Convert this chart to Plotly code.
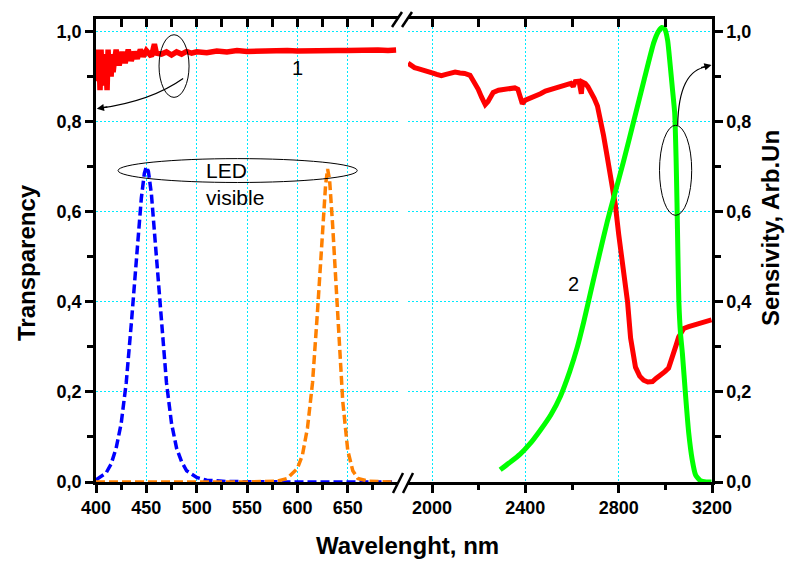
import plotly.graph_objects as go

# ---------------- data ----------------
trans_vis_nm = [400, 401, 402, 403, 404, 405, 406, 407, 408, 409, 410, 411, 412, 413, 414, 415,
                416, 417, 418, 420, 422, 423, 426, 429, 432, 435, 438, 441, 444, 447, 450, 455,
                458, 460, 465, 470, 475, 480, 485, 490, 495, 500, 510, 520, 530, 540, 550, 560,
                570, 580, 590, 600, 610, 620, 630, 640, 650, 660, 670, 680, 690, 698]
trans_vis = [0.93, 0.96, 0.89, 0.95, 0.87, 0.96, 0.90, 0.94, 0.88, 0.95, 0.92, 0.87, 0.96, 0.91,
             0.95, 0.90, 0.95, 0.91, 0.93, 0.96, 0.935, 0.925, 0.955, 0.93, 0.96, 0.935, 0.955,
             0.94, 0.96, 0.945, 0.958, 0.945, 0.972, 0.952, 0.95, 0.955, 0.948, 0.955, 0.95,
             0.956, 0.952, 0.955, 0.953, 0.957, 0.955, 0.958, 0.956, 0.957, 0.958, 0.956, 0.958,
             0.957, 0.958, 0.957, 0.959, 0.958, 0.958, 0.959, 0.958, 0.959, 0.958, 0.959]

trans_ir_nm = [1897, 1910, 1925, 1940, 1955, 1970, 1985, 2004, 2020, 2040, 2060, 2080, 2099, 2120,
               2140, 2163, 2180, 2198, 2212, 2228, 2240, 2262, 2285, 2310, 2335, 2355, 2368, 2378,
               2387, 2400, 2421, 2445, 2465, 2486, 2510, 2530, 2550, 2575, 2595, 2605, 2614, 2630,
               2640, 2645, 2657, 2668, 2679, 2695, 2709, 2722, 2735, 2750, 2765, 2778, 2786, 2800,
               2816, 2828, 2838, 2851, 2862, 2872, 2890, 2907, 2925, 2945, 2960, 2980, 2998, 3014,
               3025, 3036, 3047, 3057, 3068, 3079, 3100, 3121, 3140, 3160, 3180, 3198]
trans_ir = [0.93, 0.925, 0.92, 0.918, 0.915, 0.912, 0.91, 0.908, 0.905, 0.902, 0.905, 0.908, 0.91,
            0.908, 0.907, 0.903, 0.89, 0.872, 0.855, 0.838, 0.845, 0.865, 0.87, 0.872, 0.873, 0.875,
            0.872, 0.855, 0.84, 0.848, 0.852, 0.857, 0.862, 0.868, 0.872, 0.875, 0.878, 0.882,
            0.885, 0.878, 0.889, 0.89, 0.862, 0.888, 0.885, 0.878, 0.868, 0.852, 0.835, 0.805,
            0.77, 0.725, 0.68, 0.635, 0.614, 0.55, 0.49, 0.44, 0.40, 0.32, 0.28, 0.255, 0.235,
            0.226, 0.222, 0.223, 0.23, 0.237, 0.245, 0.253, 0.268, 0.286, 0.305, 0.322, 0.333,
            0.341, 0.345, 0.348, 0.352, 0.355, 0.357, 0.36]

sens_nm = [2292, 2330, 2378, 2420, 2464, 2510, 2550, 2590, 2623, 2650, 2679, 2715, 2752, 2778,
           2820, 2864, 2910, 2950, 2970, 2985, 2998, 3010, 3020, 3031, 3040, 3046, 3050, 3054,
           3058, 3065, 3073, 3087, 3100, 3115, 3130, 3150, 3175, 3198]
sens = [0.027, 0.042, 0.062, 0.085, 0.115, 0.15, 0.19, 0.245, 0.30, 0.355, 0.42, 0.50, 0.58, 0.63,
        0.71, 0.80, 0.895, 0.975, 1.0, 1.009, 1.005, 0.98, 0.93, 0.87, 0.82, 0.72, 0.62, 0.50,
        0.40, 0.33, 0.286, 0.19, 0.11, 0.05, 0.015, 0.003, 0.0, 0.0]

led_blue_nm = [400, 410, 415, 420, 425, 430, 435, 440, 445, 448, 450, 452, 455, 460, 465, 470,
               475, 480, 485, 490, 500, 510, 530, 560, 600, 650, 694]
led_blue = [0.005, 0.02, 0.04, 0.075, 0.13, 0.22, 0.35, 0.50, 0.63, 0.685, 0.70, 0.69, 0.64,
            0.50, 0.35, 0.22, 0.13, 0.075, 0.045, 0.025, 0.01, 0.004, 0.001, 0, 0, 0, 0]

led_orange_nm = [400, 550, 580, 590, 600, 605, 610, 615, 620, 625, 628, 630, 632, 635, 640, 645,
                 650, 655, 660, 670, 694]
led_orange = [0, 0, 0.002, 0.008, 0.03, 0.06, 0.12, 0.22, 0.38, 0.57, 0.66, 0.695, 0.67, 0.57,
              0.36, 0.18, 0.07, 0.025, 0.008, 0.002, 0]

x_ticks_vis = [400, 450, 500, 550, 600, 650]
x_ticks_ir = [2000, 2400, 2800, 3200]
y_ticks = [0, 0.2, 0.4, 0.6, 0.8, 1.0]

# ---------------- layout geometry ----------------
W, H = 790, 563
ML, MR, MT, MB = 96, 78, 19, 81
PW, PH = W - ML - MR, H - MT - MB


def px(x):
    return (x - ML) / PW


def py(y):
    return (H - MB - y) / PH


FONT = "Liberation Sans, Arial, sans-serif"
GRID = "#00eaff"
GDASH = "2px,2px"
YR = [0, 1.028]
XR1 = [400, 699.9]
XR2 = [1897, 3200]
D1 = [0, px(398)]
D2 = [px(408), 1]

fig = go.Figure()
fig.add_trace(go.Scatter(x=trans_vis_nm, y=trans_vis, xaxis="x", yaxis="y", mode="lines",
                         line=dict(color="#ff0000", width=5.5), showlegend=False))
fig.add_trace(go.Scatter(x=led_blue_nm, y=led_blue, xaxis="x", yaxis="y", mode="lines",
                         line=dict(color="#0000ff", width=3.5, dash="9px,4px"), showlegend=False))
fig.add_trace(go.Scatter(x=led_orange_nm, y=led_orange, xaxis="x", yaxis="y", mode="lines",
                         line=dict(color="#ff8000", width=3.5, dash="9px,4px"), showlegend=False))
fig.add_trace(go.Scatter(x=trans_ir_nm, y=trans_ir, xaxis="x2", yaxis="y", mode="lines",
                         line=dict(color="#ff0000", width=5), showlegend=False))
fig.add_trace(go.Scatter(x=sens_nm, y=sens, xaxis="x2", yaxis="y2", mode="lines",
                         line=dict(color="#00ff00", width=5, shape="spline", smoothing=0.5),
                         showlegend=False))
# empty traces to register the top axes
fig.add_trace(go.Scatter(x=[], y=[], xaxis="x3", yaxis="y", showlegend=False, hoverinfo="skip"))
fig.add_trace(go.Scatter(x=[], y=[], xaxis="x4", yaxis="y", showlegend=False, hoverinfo="skip"))

tickfont = dict(family=FONT, size=18, color="black", weight="bold")
common_x = dict(showline=True, linecolor="black", linewidth=2.5, zeroline=False,
                ticks="outside", ticklen=8, tickwidth=2.5, tickcolor="black",
                tickfont=tickfont, showgrid=True, gridcolor=GRID, griddash=GDASH, gridwidth=1)
top_x = dict(side="top", anchor="y", ticks="inside", ticklen=8, tickwidth=2.5,
             tickcolor="black", showline=True, linecolor="black", linewidth=2.5,
             showticklabels=False, showgrid=False, zeroline=False)
fig.update_layout(
    template="none",
    width=W, height=H, margin=dict(l=ML, r=MR, t=MT, b=MB),
    paper_bgcolor="white", plot_bgcolor="white",
    separators=",.",
    xaxis=dict(domain=D1, range=XR1, anchor="y", tickvals=x_ticks_vis,
               minor=dict(dtick=25, tick0=400, ticks="outside", ticklen=5, tickwidth=2.5,
                          tickcolor="black", showgrid=False), **common_x),
    xaxis2=dict(domain=D2, range=XR2, anchor="y", tickvals=x_ticks_ir,
                minor=dict(dtick=200, tick0=2000, ticks="outside", ticklen=5, tickwidth=2.5,
                           tickcolor="black", showgrid=False), **common_x),
    xaxis3=dict(overlaying="x", range=XR1, tick0=400, dtick=25, **top_x),
    xaxis4=dict(overlaying="x2", range=XR2, tick0=2000, dtick=200, **top_x),
    yaxis=dict(domain=[0, 1], range=YR, anchor="x", tickvals=y_ticks, tickformat=".1f",
               showline=True, linecolor="black", linewidth=2.5, zeroline=False,
               ticks="outside", ticklen=8, tickwidth=2.5, tickcolor="black", tickfont=tickfont,
               showgrid=True, gridcolor=GRID, griddash=GDASH, gridwidth=1,
               minor=dict(dtick=0.1, tick0=0, ticks="outside", ticklen=6, tickwidth=2.5,
                          tickcolor="black", showgrid=False)),
    yaxis2=dict(overlaying="y", side="right", anchor="x2", range=YR, tickvals=y_ticks,
                tickformat=".1f", showline=True, linecolor="black", linewidth=2.5,
                zeroline=False, ticks="outside", ticklen=8, tickwidth=2.5, tickcolor="black",
                tickfont=tickfont, showgrid=False,
                minor=dict(dtick=0.1, tick0=0, ticks="outside", ticklen=6, tickwidth=2.5,
                           tickcolor="black", showgrid=False)),
)

# axis titles
tfont = dict(family=FONT, size=24, color="black", weight="bold")
fig.add_annotation(text="Wavelenght, nm", xref="paper", yref="paper", x=px(407), y=py(545),
                   showarrow=False, font=tfont, xanchor="center", yanchor="middle")
fig.add_annotation(text="Transparency", xref="paper", yref="paper", x=px(26), y=py(263),
                   showarrow=False, font=tfont, textangle=-90, xanchor="center", yanchor="middle")
fig.add_annotation(text="Sensivity, Arb.Un", xref="paper", yref="paper", x=px(770), y=py(228),
                   showarrow=False, font=tfont, textangle=-90, xanchor="center", yanchor="middle")

# labels
lfont = dict(family=FONT, size=20, color="black")
fig.add_annotation(text="1", xref="x", yref="y", x=600, y=0.919, showarrow=False, font=lfont)
fig.add_annotation(text="2", xref="x2", yref="y", x=2606, y=0.44, showarrow=False, font=lfont)
fig.add_annotation(text="LED", xref="paper", yref="paper", x=px(204), y=py(170),
                   showarrow=False, font=dict(family=FONT, size=21, color="black"),
                   xanchor="left", yanchor="middle")
fig.add_annotation(text="visible", xref="paper", yref="paper", x=px(204), y=py(197),
                   showarrow=False, font=dict(family=FONT, size=21, color="black"),
                   xanchor="left", yanchor="middle")

# ellipses
fig.add_shape(type="circle", xref="x", yref="y", x0=462.6, x1=492.4, y0=0.854, y1=0.993,
              line=dict(color="black", width=1))
fig.add_shape(type="circle", xref="x", yref="y", x0=421.9, x1=659.4, y0=0.665, y1=0.718,
              line=dict(color="black", width=1))
fig.add_shape(type="circle", xref="x2", yref="y", x0=2975, x1=3113, y0=0.592, y1=0.792,
              line=dict(color="black", width=1))

# curved arrows
fig.add_shape(type="path", xref="x", yref="y", path="M 486.5,0.896 Q 455,0.846 404,0.830",
              line=dict(color="black", width=1.2))
fig.add_annotation(x=400.8, y=0.829, xref="x", yref="y", ax=12, ay=-2, text="",
                   showarrow=True, arrowhead=2, arrowsize=1.2, arrowwidth=1.2,
                   arrowcolor="black")
fig.add_shape(type="path", xref="x2", yref="y", path="M 3053,0.792 Q 3057,0.915 3180,0.922",
              line=dict(color="black", width=1.2))
fig.add_annotation(x=3198, y=0.926, xref="x2", yref="y", ax=-12, ay=3, text="",
                   showarrow=True, arrowhead=2, arrowsize=1.2, arrowwidth=1.2,
                   arrowcolor="black")

# axis break marks
for (x0, y0, x1, y1) in [(392, 27, 402, 12), (402, 27, 412, 12),
                         (393, 493, 403, 473), (403, 493, 413, 473)]:
    fig.add_shape(type="line", xref="paper", yref="paper", x0=px(x0), y0=py(y0),
                  x1=px(x1), y1=py(y1), line=dict(color="black", width=2.5))

fig.write_html("out.html", config={"displayModeBar": False},
               post_script="document.body.style.margin='0';")
